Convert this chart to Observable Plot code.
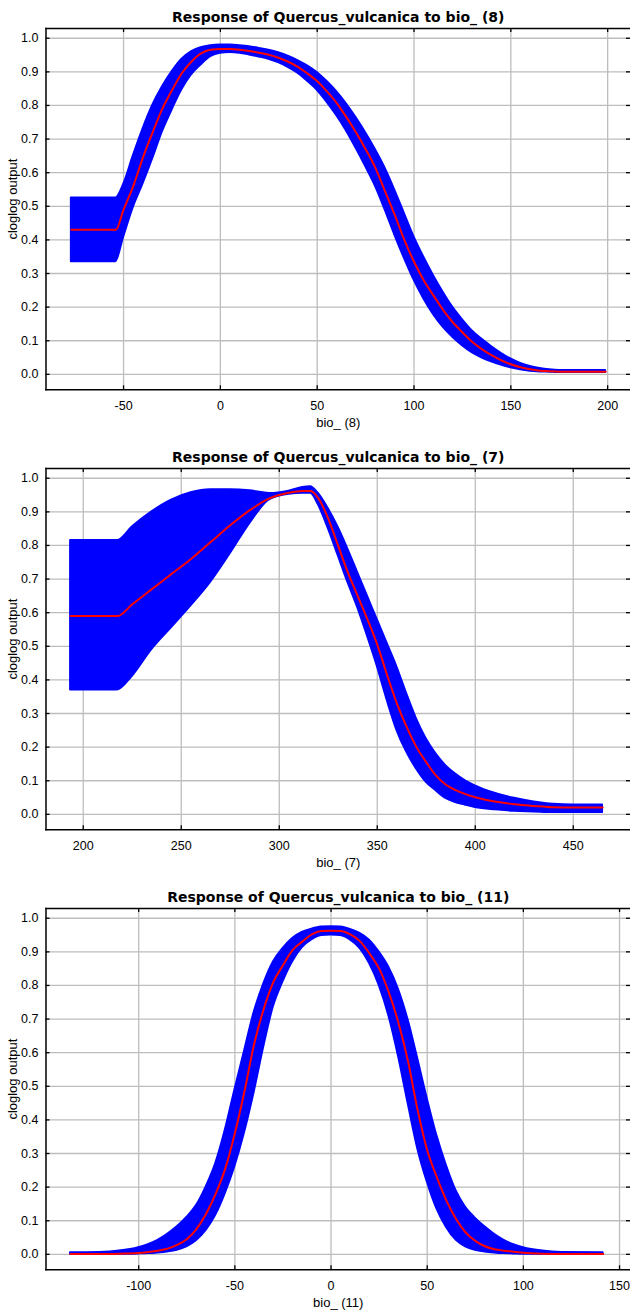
<!DOCTYPE html>
<html><head><meta charset="utf-8">
<script src="https://cdn.jsdelivr.net/npm/d3@7"></script>
<script src="https://cdn.jsdelivr.net/npm/@observablehq/plot@0.6"></script>
<style>html,body{margin:0;padding:0;background:#fff;overflow:hidden}svg{display:block}</style>
</head><body><div id="chart"></div>
<script>
const yLabel = "cloglog output";
const yTicks = [0, 0.1, 0.2, 0.3, 0.4, 0.5, 0.6, 0.7, 0.8, 0.9, 1.0];

// Panel 1: bio_ (8)
const bio8Title = "Response of Quercus_vulcanica to bio_ (8)";
const bio8Label = "bio_ (8)";
const bio8Ticks = [-50, 0, 50, 100, 150, 200];
const bio8X = [-77, -54, -50, -45, -40, -35, -30, -25, -20, -15, -10, -5, 0, 5, 10, 15, 20, 25, 30, 35, 40, 45, 50, 55, 60, 65, 70, 75, 80, 85, 90, 95, 100, 105, 110, 115, 120, 125, 130, 135, 140, 145, 150, 155, 160, 165, 170, 175, 199];
const bio8Mean = [.43, .43, .49, .56, .645, .72, .79, .845, .895, .93, .955, .966, .968, .968, .966, .962, .957, .951, .942, .93, .915, .895, .872, .842, .808, .766, .72, .67, .615, .545, .475, .40, .335, .28, .235, .192, .155, .125, .097, .075, .057, .042, .03, .021, .015, .011, .009, .008, .008];
const bio8Upper = [.525, .525, .565, .65, .73, .80, .855, .90, .937, .96, .972, .978, .98, .98, .978, .975, .97, .965, .957, .947, .934, .918, .898, .872, .842, .806, .765, .72, .67, .615, .55, .48, .41, .35, .295, .245, .20, .163, .13, .105, .083, .063, .046, .033, .024, .018, .014, .012, .012];
const bio8Lower = [.335, .335, .406, .495, .565, .64, .72, .785, .845, .89, .92, .945, .955, .957, .955, .95, .944, .937, .927, .913, .896, .872, .845, .81, .77, .725, .673, .618, .56, .49, .415, .345, .28, .225, .178, .14, .11, .085, .064, .049, .037, .027, .019, .013, .009, .007, .006, .005, .005];

// Panel 2: bio_ (7)
const bio7Title = "Response of Quercus_vulcanica to bio_ (7)";
const bio7Label = "bio_ (7)";
const bio7Ticks = [200, 250, 300, 350, 400, 450];
const bio7X = [193.5, 217.5, 225, 235, 245, 255, 265, 275, 285, 295, 305, 312, 316, 320, 325, 330, 335, 340, 345, 350, 355, 360, 365, 370, 375, 380, 385, 390, 395, 400, 410, 420, 430, 440, 450, 465];
const bio7Mean = [.59, .59, .625, .67, .715, .76, .81, .86, .905, .94, .957, .962, .962, .94, .88, .80, .72, .65, .58, .505, .415, .33, .26, .20, .155, .115, .088, .072, .06, .051, .038, .03, .025, .021, .02, .02];
const bio7Upper = [.815, .815, .855, .90, .935, .957, .966, .966, .963, .955, .962, .973, .975, .955, .91, .855, .79, .72, .65, .58, .51, .44, .36, .285, .225, .18, .145, .12, .10, .085, .063, .048, .037, .03, .028, .028];
const bio7Lower = [.37, .37, .41, .49, .555, .62, .69, .775, .865, .935, .952, .955, .955, .92, .85, .77, .69, .615, .53, .44, .34, .25, .185, .135, .095, .07, .047, .035, .027, .02, .013, .009, .007, .005, .005, .005];

// Panel 3: bio_ (11)
const bio11Title = "Response of Quercus_vulcanica to bio_ (11)";
const bio11Label = "bio_ (11)";
const bio11Ticks = [-100, -50, 0, 50, 100, 150];
const bio11X = [-135.5, -120, -110, -100, -95, -90, -85, -80, -75, -70, -65, -60, -55, -50, -45, -40, -35, -30, -25, -20, -15, -10, -5, 0, 5, 10, 15, 20, 25, 30, 35, 40, 45, 50, 55, 60, 65, 70, 75, 80, 85, 90, 95, 100, 110, 120, 141.5];
const bio11Mean = [.001, .001, .002, .004, .007, .011, .017, .028, .045, .075, .12, .18, .255, .36, .485, .625, .73, .81, .86, .905, .93, .952, .962, .963, .962, .952, .932, .895, .85, .78, .69, .575, .43, .31, .23, .16, .105, .065, .04, .024, .015, .011, .008, .005, .002, .001, .001];
const bio11Upper = [.005, .006, .01, .02, .029, .042, .06, .082, .11, .145, .20, .27, .37, .49, .605, .72, .805, .87, .91, .94, .958, .968, .974, .975, .974, .967, .955, .935, .90, .855, .79, .70, .585, .465, .355, .265, .19, .14, .108, .082, .06, .042, .029, .02, .01, .006, .005];
const bio11Lower = [0, 0, 0, .001, .002, .004, .007, .012, .022, .04, .07, .115, .18, .26, .36, .48, .615, .735, .81, .87, .912, .935, .948, .95, .948, .935, .91, .865, .80, .71, .59, .45, .315, .215, .135, .08, .042, .022, .012, .007, .004, .002, .001, 0, 0, 0, 0];

const panels = [
  {title: bio8Title, xLabel: bio8Label, xs: bio8X, mean: bio8Mean, upper: bio8Upper, lower: bio8Lower, xTicks: bio8Ticks, xDomain: [-90.05, 211.8]},
  {title: bio7Title, xLabel: bio7Label, xs: bio7X, mean: bio7Mean, upper: bio7Upper, lower: bio7Lower, xTicks: bio7Ticks, xDomain: [181.0, 479.2]},
  {title: bio11Title, xLabel: bio11Label, xs: bio11X, mean: bio11Mean, upper: bio11Upper, lower: bio11Lower, xTicks: bio11Ticks, xDomain: [-148.2, 155.7]}
];

function panel(p) {
  const rows = p.xs.map((x, i) => ({x, m: p.mean[i], hi: p.upper[i], lo: p.lower[i]}));
  const H = 440, mt = 28, mb = 50.7, ml = 45.5, mr = 0, W = 630;
  const ih = H - mt - mb, iw = W - ml - mr, tk = 4;
  const gridStyle = {stroke: "#bdbdbd", strokeOpacity: 1, strokeWidth: 1.3};
  const tickStyle = {stroke: "#000", strokeWidth: 1.3};
  return Plot.plot({
    width: W, height: H, marginTop: mt, marginBottom: mb, marginLeft: ml, marginRight: mr,
    style: {fontFamily: "'Liberation Sans', Arial, sans-serif", fontSize: "12.5px", background: "#fff", color: "#000"},
    x: {domain: p.xDomain},
    y: {domain: [-0.046, 1.029]},
    marks: [
      Plot.gridX(p.xTicks, gridStyle),
      Plot.gridY(yTicks, gridStyle),
      Plot.areaY(rows, {x: "x", y1: "lo", y2: "hi", fill: "#0000ff", stroke: "#0000ff", strokeWidth: 1.8, strokeLinejoin: "round", curve: "monotone-x"}),
      Plot.line(rows, {x: "x", y: "m", stroke: "#ff0000", strokeWidth: 2, curve: "monotone-x"}),
      Plot.ruleX(p.xTicks, {x: d => d, insetTop: ih - tk, ...tickStyle}),
      Plot.ruleX(p.xTicks, {x: d => d, insetBottom: ih - tk, ...tickStyle}),
      Plot.ruleY(yTicks, {y: d => d, insetRight: iw - tk, ...tickStyle}),
      Plot.ruleY(yTicks, {y: d => d, insetLeft: iw - tk, ...tickStyle}),
      Plot.frame({anchor: "left", stroke: "#000", strokeWidth: 1.5}),
      Plot.frame({anchor: "top", stroke: "#000", strokeWidth: 1.5}),
      Plot.frame({anchor: "bottom", stroke: "#000", strokeWidth: 1.5}),
      Plot.axisX(p.xTicks, {tickSize: 0, tickPadding: 11, tickFormat: d => String(d), label: null, fontSize: 12.5}),
      Plot.axisY(yTicks, {tickSize: 0, tickPadding: 7.5, tickFormat: d3.format(".1f"), label: null, fontSize: 12.5}),
      Plot.text([p.title], {text: d => d, frameAnchor: "top", lineAnchor: "middle", textAnchor: "middle", dy: -11, fontFamily: "'DejaVu Sans', sans-serif", fontWeight: "bold", fontSize: 14, fill: "#000"}),
      Plot.text([p.xLabel], {text: d => d, frameAnchor: "bottom", lineAnchor: "middle", textAnchor: "middle", dy: 33, fontSize: 13, fill: "#000"}),
      Plot.text([yLabel], {text: d => d, frameAnchor: "left", lineAnchor: "middle", textAnchor: "middle", dx: -33.5, dy: -10, rotate: -90, fontSize: 13, fill: "#000"})
    ]
  });
}

const root = document.getElementById("chart");
for (const p of panels) root.appendChild(panel(p));
</script>
</body></html>
